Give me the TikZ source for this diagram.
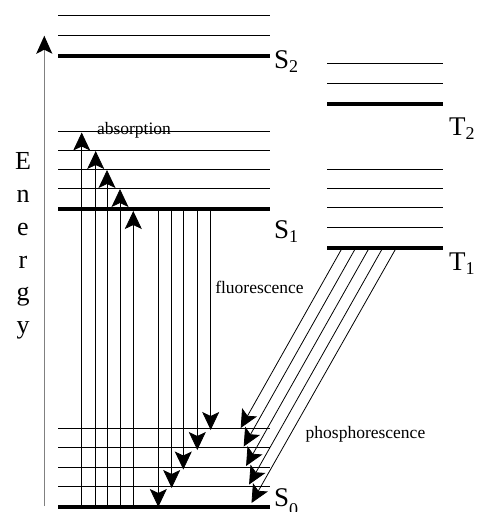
\documentclass[tikz,border=0pt]{standalone}
\usepackage{fontspec}
\setmainfont{Liberation Serif}
\usetikzlibrary{arrows.meta}
\begin{document}
\begin{tikzpicture}[x=1pt,y=-1pt,
  thinlevel/.style={line width=1pt},
  thicklevel/.style={line width=4pt},
  trans/.style={line width=0.8pt,-{Stealth[length=18pt,width=17pt,inset=4pt]}},
  lbl/.style={font=\fontsize{27}{27}\selectfont, anchor=base west, inner sep=0pt},
  smalltext/.style={font=\fontsize{17.5}{17.5}\selectfont, inner sep=0pt, anchor=base},
  energy/.style={font=\fontsize{26}{26}\selectfont, inner sep=0pt, anchor=base}]
\useasboundingbox (0,0) rectangle (478,512);
\clip (0,0) rectangle (478,512);
\newcommand{\sublbl}[2][-4pt]{\raisebox{#1}{\fontsize{18}{18}\selectfont #2}}
% singlet levels
\foreach \y in {15,35,131.7,150.3,169.3,188.3,428.3,447.3,467.3,486.3}
  \draw[thinlevel] (58,\y) -- (270,\y);
\foreach \y in {56,209.3,506.7}
  \draw[thicklevel] (58,\y) -- (270,\y);
% triplet levels
\foreach \y in {63.3,83.3,169.3,188.3,207.3,227.7}
  \draw[thinlevel] (327,\y) -- (443,\y);
\foreach \y in {104.3,248.3}
  \draw[thicklevel] (327,\y) -- (443,\y);
% energy axis
\coordinate (ebot) at (44.3,506);
\coordinate (etop) at (44.3,35.7);
\draw[gray, line width=1.5pt, -{Stealth[black,length=18pt,width=16pt,inset=4pt]}] (ebot) -- (etop);
\foreach \c/\y [count=\i] in {E/169,n/202,e/235,r/268,g/300.5,y/333}
  \node[energy] (en\i) at (23,\y) {\c};
% labels
\node[lbl] (S2) at (274,68.5) {S\sublbl{2}};
\node[lbl] (S1) at (274,238.5) {S\sublbl{1}};
\node[lbl] (S0) at (274,506.5) {S\sublbl[-9pt]{0}};
\node[lbl] (T2) at (449,135) {T\sublbl{2}};
\node[lbl] (T1) at (449,270) {T\sublbl{1}};
\node[smalltext] (abs) at (134,134.5) {absorption};
\node[smalltext] (flu) at (259.5,293) {fluorescence};
\node[smalltext] (pho) at (365.5,438.5) {phosphorescence};
% absorption
\foreach \x/\y [count=\i] in {81.7/132.5,95.7/151,107/170,120/189,133.3/211}{
  \coordinate (a\i) at (\x,506.7);
  \coordinate (b\i) at (\x,\y);
  \draw[trans] (a\i) -- (b\i);
}
% fluorescence
\foreach \x/\y [count=\i] in {158.3/507,171.7/488,183.3/469.5,197.3/450,210.7/430}{
  \coordinate (f\i) at (\x,209.3);
  \coordinate (g\i) at (\x,\y);
  \draw[trans] (f\i) -- (g\i);
}
% phosphorescence
\foreach \xs/\xe/\ye [count=\i] in {342/240.7/428,355.5/243.7/446.5,369/246.1/466,382.5/249.1/484.5,396/251.5/503}{
  \coordinate (p\i) at (\xs,248.3);
  \coordinate (q\i) at (\xe,\ye);
  \draw[trans] (p\i) -- (q\i);
}
\end{tikzpicture}
\end{document}
